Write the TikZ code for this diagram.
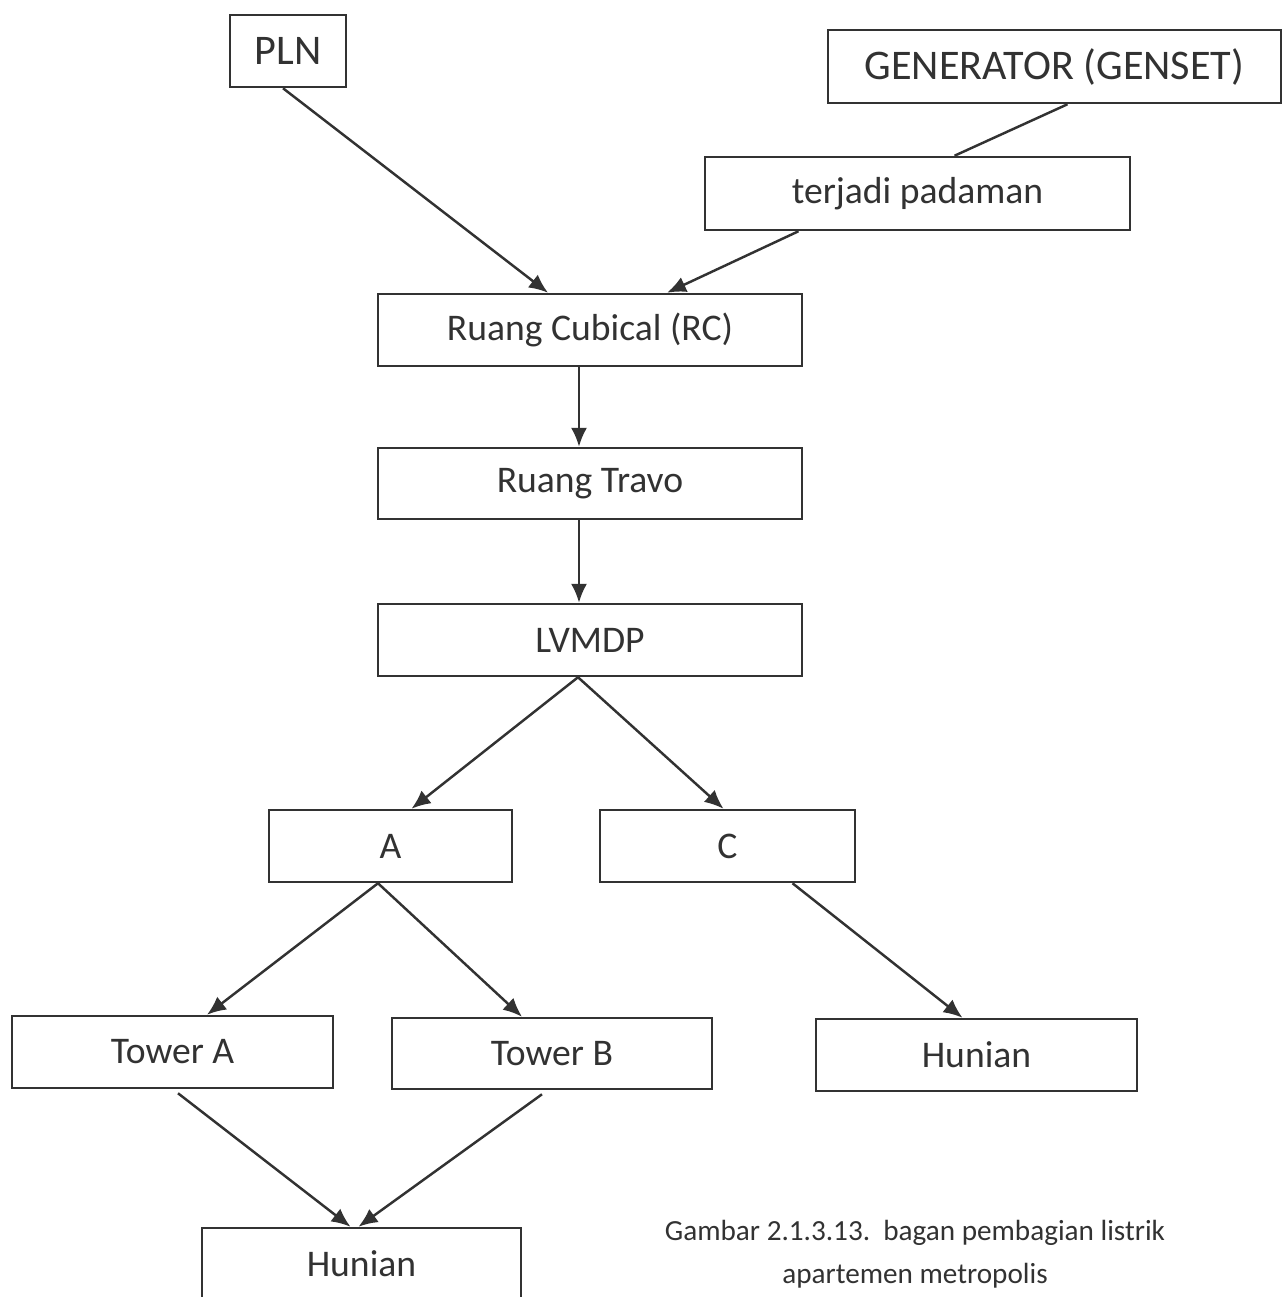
\documentclass[tikz,border=0pt]{standalone}
\usepackage{fontspec}
\setmainfont{Carlito}
\usepackage{tikz}
\usetikzlibrary{calc}
\usetikzlibrary{arrows.meta}
\usetikzlibrary{positioning}

\definecolor{garis}{RGB}{50,50,50}
\newcommand{\teksbiasa}{\fontsize{10.7}{12}\selectfont}
\newcommand{\teksbesar}{\fontsize{12}{13}\selectfont}
\newcommand{\tekskecil}{\fontsize{8.3}{12.2}\selectfont}

\tikzset{
  kotak/.style={draw=garis,line width=0.7pt,text=garis,inner sep=0pt,
    minimum height=0.72cm,font=\teksbiasa},
  panah/.style={draw=garis,line width=0.7pt,-{Latex[length=5.4pt,width=4.6pt]}},
  garisan/.style={draw=garis,line width=0.7pt}
}

\begin{document}
\begin{tikzpicture}[x=0.01cm,y=-0.01cm]
        \useasboundingbox (0,0) rectangle (1284,1297);

        \node[kotak,minimum width=1.16cm,font=\teksbesar] (PLN) at (288,51) {PLN};
        \node[kotak,minimum width=4.53cm,minimum height=0.73cm,font=\teksbesar] (GEN) at (1054.5,66.5) {GENERATOR (GENSET)};
        \node[kotak,minimum width=4.25cm,minimum height=0.73cm] (padam) at (917.5,193.5) {terjadi padaman};
        \node[kotak,minimum width=4.24cm] (RC) at (590,330) {Ruang Cubical (RC)};
        \node[kotak,minimum width=4.24cm,minimum height=0.71cm] (travo) at (590,483.5) {Ruang Travo};
        \node[kotak,minimum width=4.24cm] (LVMDP) at (590,640) {LVMDP};
        \node[kotak,minimum width=2.43cm] (A) at (390.5,846) {A};
        \node[kotak,minimum width=2.55cm] (C) at (727.5,846) {C};
        \node[kotak,minimum width=3.21cm] (towerA) at (172.5,1052) {Tower A};
        \node[kotak,minimum width=3.20cm,minimum height=0.71cm] (towerB) at (552,1053.5) {Tower B};
        \node[kotak,minimum width=3.21cm] (hunianC) at (976.5,1055) {Hunian};
        \node[kotak,minimum width=3.19cm] (hunianAB) at (361.5,1264) {Hunian};

        \node[align=center,text=garis,font=\tekskecil] (ket) at (915,1254) {Gambar 2.1.3.13.\ \ bagan pembagian listrik\\apartemen metropolis};

        \draw[panah] ($(PLN.south)+(-5,0)$) -- ($(RC.north)+(-42,0)$);
        \draw[garisan] ($(GEN.south)+(13,0)$) -- ($(padam.north)+(37,0)$);
        \draw[panah] ($(padam.south)+(-119,0)$) -- ($(RC.north)+(77,0)$);
        \draw[panah] ($(RC.south)+(-11,0)$) -- ($(travo.north)+(-11,0)$);
        \draw[panah] ($(travo.south)+(-11,0)$) -- ($(LVMDP.north)+(-11,0)$);
        \draw[panah] ($(LVMDP.south)+(-12,0)$) -- ($(A.north)+(21,0)$);
        \draw[panah] ($(LVMDP.south)+(-12,0)$) -- ($(C.north)+(-4,0)$);
        \draw[panah] ($(A.south)+(-12.5,0)$) -- ($(towerA.north)+(34.5,0)$);
        \draw[panah] ($(A.south)+(-12.5,0)$) -- ($(towerB.north)+(-30,0)$);
        \draw[panah] ($(C.south)+(65,0)$) -- ($(hunianC.north)+(-14,0)$);
        \draw[panah] ($(towerA.south)+(5.5,4)$) -- ($(hunianAB.north)+(-11,0)$);
        \draw[panah] ($(towerB.south)+(-10,4)$) -- ($(hunianAB.north)+(-3,0)$);
    \end{tikzpicture}
\end{document}
